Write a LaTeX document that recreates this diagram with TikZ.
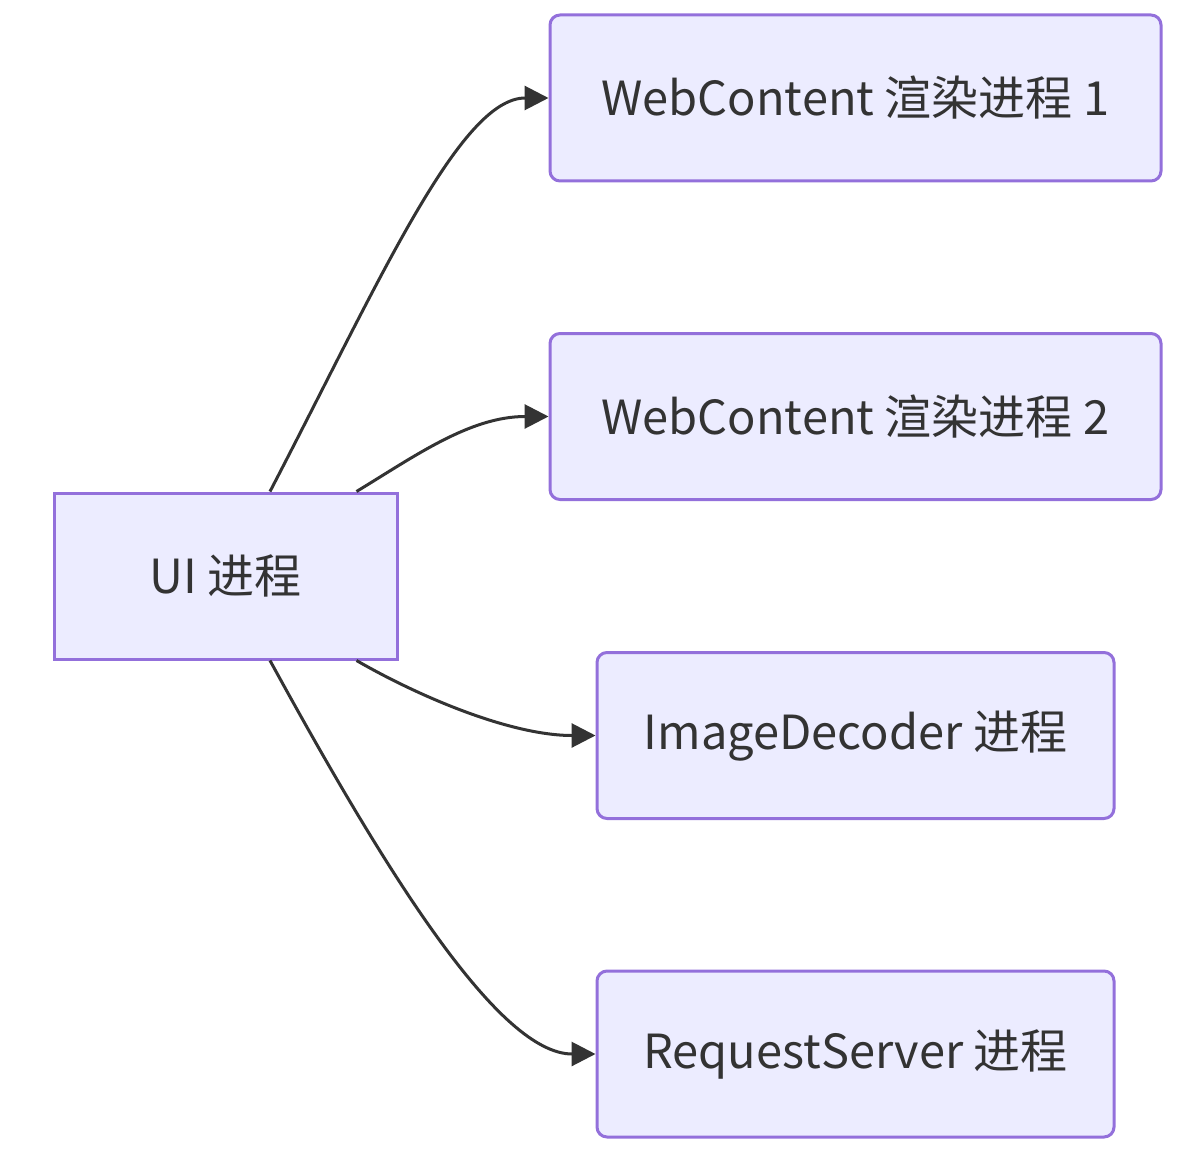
\documentclass[tikz,border=0pt]{standalone}
\usepackage{fontspec}
\setmainfont{Noto Sans CJK SC}
\usetikzlibrary{arrows.meta,calc,positioning}
\definecolor{boxfill}{HTML}{ECECFF}
\definecolor{boxline}{HTML}{9370DB}
\definecolor{ink}{HTML}{333333}
\tikzset{
  proc/.style={draw=boxline,fill=boxfill,line width=1.5pt,minimum height=83pt,
    inner sep=0pt,text=ink,font=\fontsize{23.5}{28}\selectfont},
  link/.style={draw=ink,line width=1.5pt,-{Triangle[length=12pt,width=12pt]}}
}
\begin{document}
\begin{tikzpicture}[x=0.5pt,y=-0.5pt]
   \useasboundingbox (0,0) rectangle (1202,1160);
   \node[proc,minimum width=171.5pt] (ui) at (225.5,576) {UI 进程};
   \foreach \pos/\name/\boxw/\disp in {{(855.5,98)/wc1/305.5pt/WebContent 渲染进程 1},
      {(855.5,416.5)/wc2/305.5pt/WebContent 渲染进程 2},
      {(855.5,735.5)/img/258.5pt/ImageDecoder 进程},
      {(855.5,1054)/req/258.5pt/RequestServer 进程}}
   \node[proc,rounded corners=5pt,minimum width=\boxw] (\name) at \pos {\disp};
   \draw[link] ($(ui.north)+(44.5,0)$) .. controls (380,280) and (460,98) .. (wc1.west);
   \draw[link] ($(ui.north east)+(-42,0)$) .. controls (415,456) and (470,416.5) .. (wc2.west);
   \draw[link] ($(ui.south east)+(-42,0)$) .. controls (418,696) and (510,735.5) .. (img.west);
   \draw[link] ($(ui.south)+(44.5,0)$) .. controls (390,880) and (500,1054) .. (req.west);
\end{tikzpicture}
\end{document}
